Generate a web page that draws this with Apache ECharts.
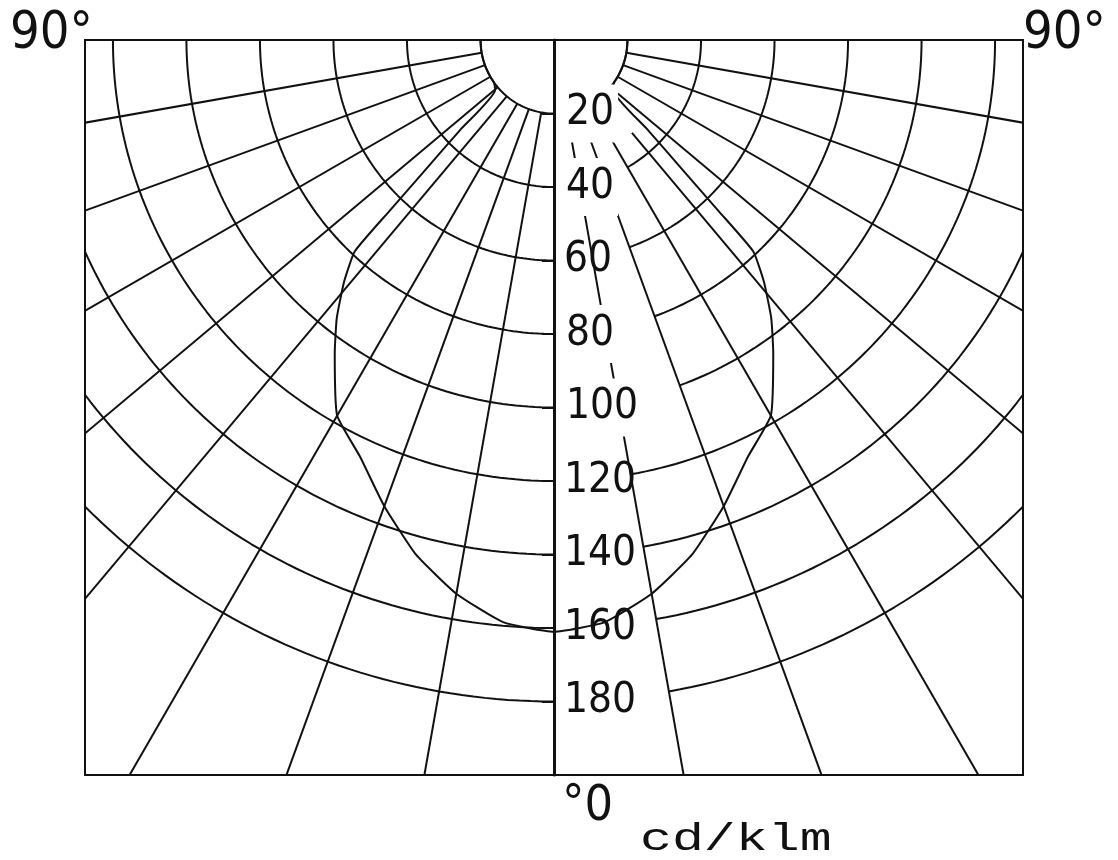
<!DOCTYPE html>
<html>
<head>
<meta charset="utf-8">
<script src="https://cdn.jsdelivr.net/npm/echarts@6/dist/echarts.min.js"></script>
<style>
html,body{margin:0;padding:0;background:#fff;}
#c{width:1118px;height:860px;}
</style>
</head>
<body>
<div id="c"></div>
<script>
// ---- data ----
const ringValues = [20, 40, 60, 80, 100, 120, 140, 160, 180];          // cd/klm grid circles
const ringRightStart = [50, 30, 20, 20, 20, 10, 10, 10, 10];          // deg where right half of ring begins (label gap)
const spokeAngles = [10, 20, 30, 40, 50, 60, 70, 80];                 // deg from nadir
const spokeRightStart = [26, 27, 29, 33, 20, 20, 20, 20];             // cd/klm where right spoke starts
const maskedLabels = [20, 40, 80, 100];                               // labels that hide the grid under them
const curveAngles = [0, 5, 10, 15, 20, 25, 30, 35, 38, 41, 43.3, 43.9, 44.7, 46.2, 49.7, 55, 60, 70, 80, 90];
const curveValues = [161, 159, 153, 145, 135, 125, 118, 104, 96, 87, 79, 64.6, 50, 35.5, 21, 20, 20, 20, 20, 20];
const cornerLabel = '90°';
const zeroLabel = '°0';
const unitLabel = 'cd/klm';

// ---- helpers ----
function pt(r, deg) {
  const a = deg * Math.PI / 180;
  return [r * Math.sin(a), r * Math.cos(a)];
}
function arc(r, a0, a1) {
  const out = [];
  for (let a = a0; a <= a1 + 1e-9; a += 1) out.push(pt(r, a));
  return out;
}
const lineStyle = { color: '#111', width: 2 };
function lineSeries(data, extra) {
  return Object.assign({
    type: 'line', xAxisIndex: 0, yAxisIndex: 0, data: data, symbol: 'none', silent: true, animation: false,
    lineStyle: lineStyle, clip: true, z: 2
  }, extra || {});
}

const series = [];
ringValues.forEach((r, i) => {
  series.push(lineSeries(arc(r, -90, 0)));
  series.push(lineSeries(arc(r, ringRightStart[i], 90)));
});
spokeAngles.forEach((a, i) => {
  series.push(lineSeries([pt(ringValues[0], -a), pt(300, -a)]));
  series.push(lineSeries([pt(spokeRightStart[i], a), pt(300, a)]));
});
// luminous intensity curve (symmetric)
const curveData = [];
for (let i = curveAngles.length - 1; i >= 0; i--) curveData.push(pt(curveValues[i], -curveAngles[i]));
for (let i = 1; i < curveAngles.length; i++) curveData.push(pt(curveValues[i], curveAngles[i]));
series.push(lineSeries(curveData, { smooth: 0.15 }));

const labelFont = "'Liberation Sans Narrow','DejaVu Sans Condensed','Liberation Sans',sans-serif";

const chart = echarts.init(document.getElementById('c'), null, { renderer: 'canvas' });
chart.setOption({
  backgroundColor: '#fff',
  animation: false,
  grid: [
    { left: 85, right: 95, top: 40, bottom: 85, show: true, borderColor: '#111', borderWidth: 2, backgroundColor: 'transparent' },
    { left: 554, width: 300, top: 40, bottom: 85, show: false }
  ],
  xAxis: [
    { type: 'value', gridIndex: 0, min: -127.6, max: 127.6, show: false },
    { type: 'value', gridIndex: 1, min: 0, max: 1, show: false }
  ],
  yAxis: [
    { type: 'value', gridIndex: 0, inverse: true, min: 0, max: 200, show: false },
    {
      type: 'value', gridIndex: 1, inverse: true, min: 0, max: 200, interval: 20, position: 'left', z: 10,
      axisLine: { show: true, onZero: false, lineStyle: { color: '#111', width: 3 } },
      axisTick: { show: true, inside: false, length: 12, lineStyle: { color: '#111', width: 2 } },
      splitLine: { show: false },
      axisLabel: {
        inside: true, margin: 10, color: '#111', fontSize: 42, fontFamily: labelFont,
        showMinLabel: false, showMaxLabel: false,
        formatter: function (v) {
          if (v === 0 || v === 200) return '';
          return maskedLabels.indexOf(v) >= 0 ? '{m|' + v + '}' : '{t|' + v + '}';
        },
        rich: {
          m: { backgroundColor: '#fff', padding: [8, 4, 8, 2], fontSize: 42, fontFamily: labelFont, color: '#111' },
          t: { fontSize: 42, fontFamily: labelFont, color: '#111' }
        }
      }
    }
  ],
  graphic: [
    { type: 'text', left: 10, top: 8, style: { text: cornerLabel, font: '52px ' + labelFont, fill: '#111' } },
    { type: 'text', left: 1023, top: 8, style: { text: cornerLabel, font: '52px ' + labelFont, fill: '#111' } },
    { type: 'text', left: 562, top: 782, style: { text: zeroLabel, font: '50px ' + labelFont, fill: '#111' } },
    { type: 'text', x: 640, y: 821, scaleX: 1.4, style: { text: unitLabel, font: '38px "Liberation Mono",monospace', fill: '#111' } }
  ],
  series: series
});
</script>
</body>
</html>
